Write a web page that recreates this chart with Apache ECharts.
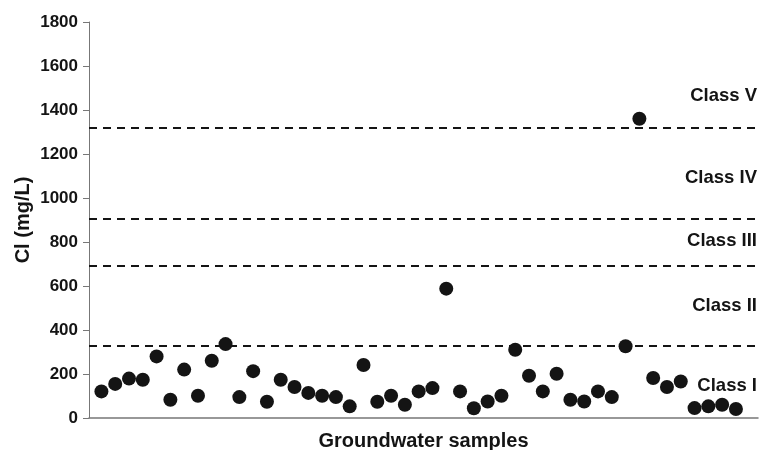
<!DOCTYPE html>
<html>
<head>
<meta charset="utf-8">
<script src="https://cdn.jsdelivr.net/npm/echarts@6/dist/echarts.min.js"></script>
<style>html,body{margin:0;padding:0;background:#fff}#c{width:761px;height:450px}</style>
</head>
<body>
<div id="c"></div>
<script>
const samples = [1,2,3,4,5,6,7,8,9,10,11,12,13,14,15,16,17,18,19,20,21,22,23,24,25,26,27,28,29,30,31,32,33,34,35,36,37,38,39,40,41,42,43,44,45,46,47];
const clValues = [121,155,179,174,280,83,220,101,260,336,95,213,74,174,141,114,101,95,53,241,74,101,60,121,136,588,121,44,75,101,310,192,121,201,83,75,121,95,326,1360,182,141,166,45,53,60,41];
const thresholds = [330, 690, 905, 1318];
const classNames = ['Class V', 'Class IV', 'Class III', 'Class II', 'Class I'];
const classLabelY = [1462, 1090, 804, 508, 144];
const yTicks = [0,200,400,600,800,1000,1200,1400,1600,1800];

const X_MIN = 0.1, X_MAX = 48.6;
const font = '"Liberation Sans", Arial, sans-serif';
const ink = '#141414';

const chart = echarts.init(document.getElementById('c'));
chart.setOption({
  animation: false,
  grid: { left: 89, right: 3, top: 22, bottom: 32, containLabel: false, outerBoundsMode: 'none' },
  xAxis: {
    type: 'value', min: X_MIN, max: X_MAX,
    name: 'Groundwater samples', nameLocation: 'middle', nameGap: 13, nameMoveOverlap: false,
    nameTextStyle: { fontFamily: font, fontWeight: 'bold', fontSize: 20, color: ink },
    axisLine: { show: true, lineStyle: { color: '#777', width: 1.5 } },
    axisTick: { show: false }, axisLabel: { show: false }, splitLine: { show: false }
  },
  yAxis: {
    type: 'value', min: 0, max: 1800, interval: 200,
    name: 'Cl (mg/L)', nameLocation: 'middle', nameGap: 56, nameRotate: 90, nameMoveOverlap: false,
    nameTextStyle: { fontFamily: font, fontWeight: 'bold', fontSize: 20, color: ink },
    axisLine: { show: true, lineStyle: { color: '#777', width: 1 } },
    axisTick: { show: true, length: 6, inside: false, lineStyle: { color: '#777' } },
    axisLabel: { fontFamily: font, fontWeight: 'bold', fontSize: 17, color: ink, margin: 11,
      formatter: v => yTicks.includes(v) ? String(v) : '' },
    splitLine: { show: false }
  },
  series: [
    {
      type: 'scatter',
      data: samples.map((s, i) => [s, clValues[i]]),
      symbol: 'circle', symbolSize: 14,
      itemStyle: { color: ink, opacity: 1 },
      markLine: {
        silent: true, symbol: 'none',
        label: { show: false },
        lineStyle: { color: ink, type: [8, 6], width: 2, opacity: 1 },
        data: thresholds.map(t => ({ yAxis: t }))
      },
      z: 3
    },
    {
      type: 'scatter',
      data: classNames.map((n, i) => [X_MAX, classLabelY[i], n]),
      symbolSize: 0,
      itemStyle: { opacity: 1 },
      label: {
        show: true, position: 'left', distance: 1, opacity: 1,
        formatter: p => p.value[2],
        fontFamily: font, fontWeight: 'bold', fontSize: 18.5, color: ink
      },
      z: 4
    }
  ]
});
</script>
</body>
</html>
